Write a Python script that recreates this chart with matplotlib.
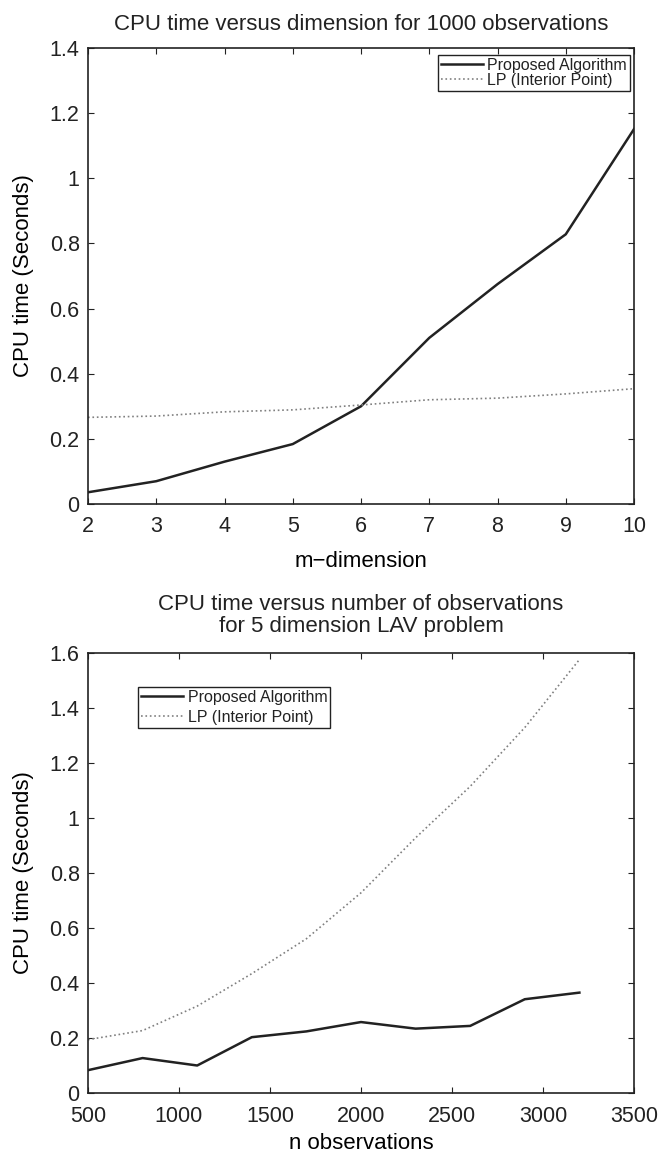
# CPU time comparison: proposed algorithm vs LP (interior point)

import numpy as np
import matplotlib
matplotlib.use('Agg')
import matplotlib.pyplot as plt
from matplotlib.ticker import FuncFormatter

## DATA

# top panel: CPU time versus dimension (1000 observations)
dims = [2, 3, 4, 5, 6, 7, 8, 9, 10]
dim_proposed = [0.036, 0.070, 0.130, 0.184, 0.300, 0.510, 0.675, 0.828, 1.151]
dim_lp = [0.266, 0.270, 0.283, 0.289, 0.304, 0.320, 0.325, 0.338, 0.354]

# bottom panel: CPU time versus number of observations (5 dimensions)
obs = [500, 800, 1100, 1400, 1700, 2000, 2300, 2600, 2900, 3200]
obs_proposed = [0.083, 0.127, 0.100, 0.203, 0.224, 0.258, 0.234, 0.244, 0.341, 0.365]
obs_lp = [0.194, 0.227, 0.316, 0.434, 0.561, 0.728, 0.928, 1.115, 1.329, 1.576]

labels = ['Proposed Algorithm', 'LP (Interior Point)']

plt.rcParams['font.family'] = ['Liberation Sans', 'DejaVu Sans']
plt.rcParams['text.color'] = '#222222'

W, H = 667, 1156
fig = plt.figure(figsize=(W / 100, H / 100), dpi=100)


def fmt(v, pos):
    return '%g' % round(v, 6)


# styles a MATLAB-like axis
def style(ax):
    ax.tick_params(direction='in', top=True, right=True, labelsize=15.5,
                   length=4, width=0.8, colors='#222222')
    ax.tick_params(axis='x', pad=9)
    ax.tick_params(axis='y', pad=6)
    ax.yaxis.set_major_formatter(FuncFormatter(fmt))
    for s in ax.spines.values():
        s.set_linewidth(1.2)
        s.set_color('#222222')


def legend(ax, loc, anchor, spacing):
    leg = ax.legend(labels, loc=loc, bbox_to_anchor=anchor, fontsize=11.5,
                    handlelength=2.6, handletextpad=0.3, borderpad=0.2,
                    labelspacing=spacing, fancybox=False, framealpha=1,
                    edgecolor='#222222', borderaxespad=0)
    leg.get_frame().set_linewidth(1.0)


# top panel
ax1 = fig.add_axes([88 / W, 1 - 504 / H, 546 / W, 456 / H])
ax1.plot(dims, dim_proposed, color='#222222', lw=1.8)
ax1.plot(dims, dim_lp, color='#808080', lw=1.2, ls=':')
ax1.set_xlim(2, 10)
ax1.set_ylim(0, 1.4)
ax1.set_xticks(dims)
ax1.set_yticks(np.arange(0, 1.41, 0.2))
ax1.set_title('CPU time versus dimension for 1000 observations', fontsize=16, pad=13)
ax1.set_xlabel('m\u2212dimension', fontsize=16, labelpad=10)
ax1.set_ylabel('CPU time (Seconds)', fontsize=16, labelpad=11)
style(ax1)
legend(ax1, 'upper right', (0.993, 0.985), 0.0)

# bottom panel
ax2 = fig.add_axes([88 / W, 1 - 1093 / H, 546 / W, 440 / H])
ax2.plot(obs, obs_proposed, color='#222222', lw=1.8)
ax2.plot(obs, obs_lp, color='#808080', lw=1.2, ls=':')
ax2.set_xlim(500, 3500)
ax2.set_ylim(0, 1.6)
ax2.set_xticks(np.arange(500, 3501, 500))
ax2.set_yticks(np.arange(0, 1.61, 0.2))
ax2.set_title('CPU time versus number of observations\nfor 5 dimension LAV problem',
              fontsize=16, pad=15, linespacing=1.1)
ax2.set_xlabel('n observations', fontsize=16, labelpad=5)
ax2.set_ylabel('CPU time (Seconds)', fontsize=16, labelpad=11)
style(ax2)
legend(ax2, 'upper left', (0.0916, 0.923), 0.3)

fig.savefig('out.png', dpi=100)
